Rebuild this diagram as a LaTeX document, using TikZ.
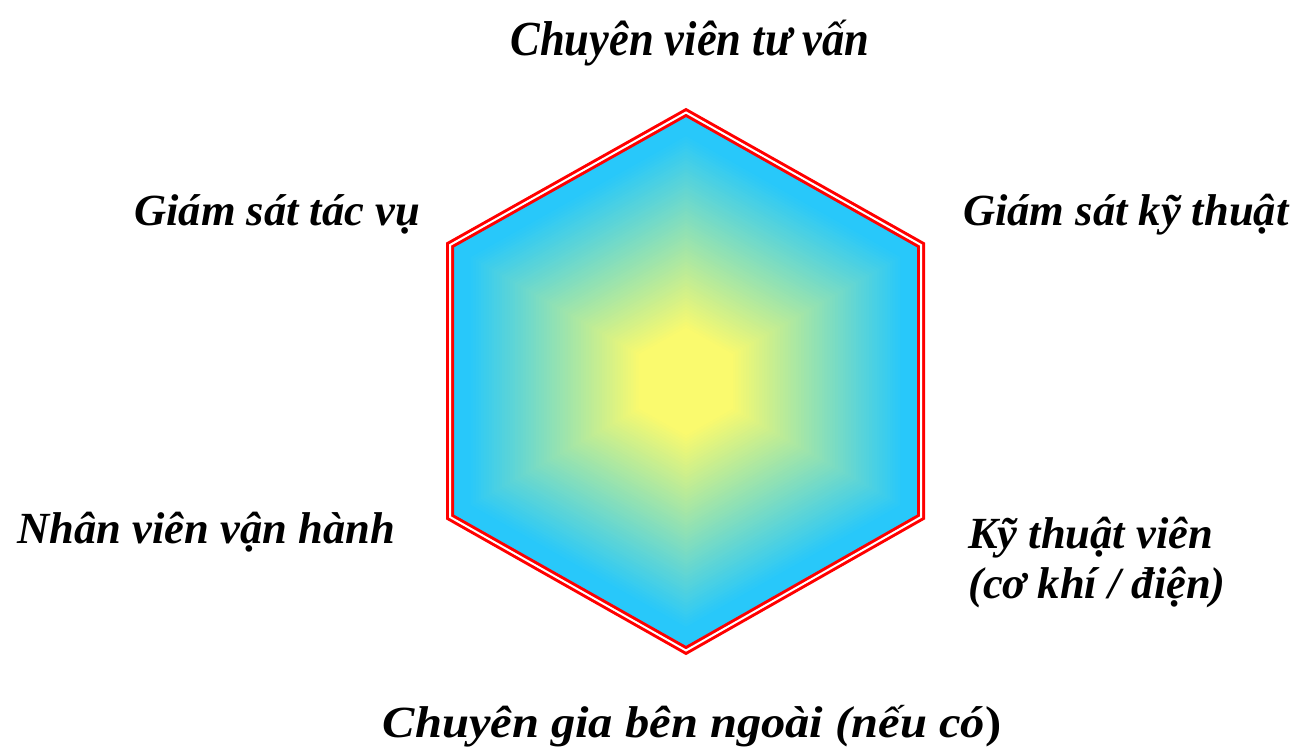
\documentclass[tikz,border=0pt]{standalone}
\usepackage{fontspec}
\setmainfont{Liberation Serif}
\begin{document}
\begin{tikzpicture}[x=1pt,y=-1pt,
  lbl/.style={font=\fontsize{44.5}{51}\selectfont\bfseries\itshape, inner sep=0pt, text=black},
  hexline/.style={draw=red, double=white, double distance=2pt, line width=3pt, line join=miter}]
\useasboundingbox (0,0) rectangle (1297,750);
\definecolor{cyanc}{RGB}{40,200,250}
\definecolor{yellowc}{RGB}{250,250,110}
\coordinate (c) at (686,381.5);
% nested hexagons to mimic a path gradient
\foreach \i in {0,...,89}{
  \pgfmathsetmacro{\s}{1-\i/90}
  \pgfmathsetmacro{\p}{max(0,min(100,(\s-0.2)/0.72*100))}
  \begin{scope}[shift={(c)}, scale=\s]
    \fill[cyanc!\p!yellowc] (0,-269.5) -- (235.5,-136.5) -- (235.5,135.5) -- (0,269.5) -- (-236.5,135.5) -- (-236.5,-136.5) -- cycle;
  \end{scope}
}
\draw[hexline] (686,112.5) -- (921,245) -- (921,517) -- (686,650.5) -- (450,517) -- (450,245) -- cycle;
\node[lbl, anchor=base] (top) at (690,55) {\scalebox{1}[1.1]{Chuyên viên tư vấn}};
\node[lbl, anchor=base east] (ul) at (420,225) {Giám sát tác vụ};
\node[lbl, anchor=base west] (ur) at (963,225) {Giám sát kỹ thuật};
\node[lbl, anchor=base east] (ll) at (395,543) {Nhân viên vận hành};
\node[lbl, anchor=base west] (lr) at (968,548) {Kỹ thuật viên};
\node[lbl, anchor=base west] (lr2) at (968,598) {(cơ khí / điện)};
\node[lbl, anchor=base] (bot) at (692,737) {\scalebox{1.09}[1]{Chuyên gia bên ngoài (nếu có{\upshape )}}};
\end{tikzpicture}
\end{document}
